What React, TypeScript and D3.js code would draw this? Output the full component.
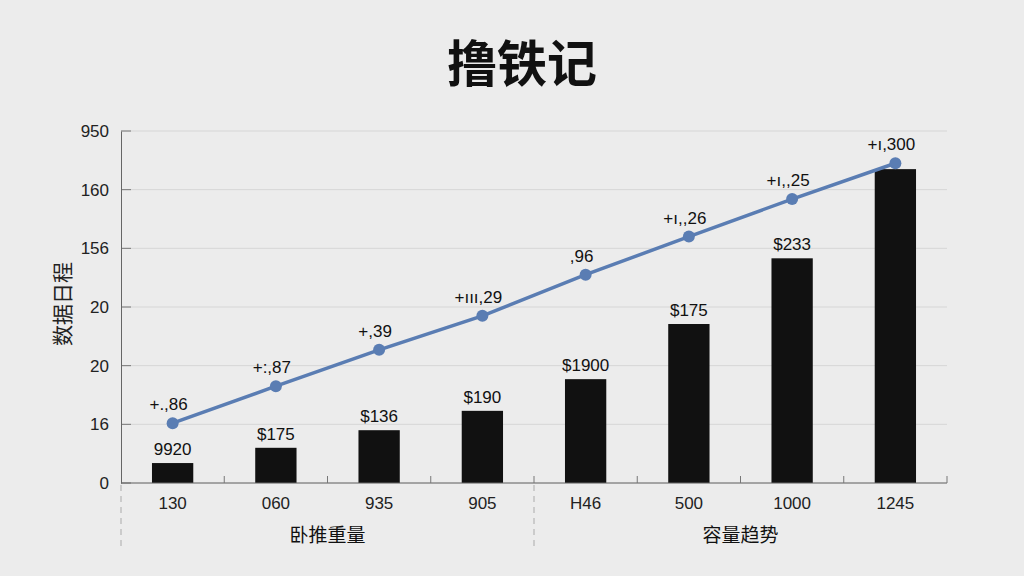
import { useEffect, useRef } from "react";
import * as d3 from "d3";

const categories = ["130", "060", "935", "905", "H46", "500", "1000", "1245"];
const barValues = [34, 60, 90, 123, 177, 271, 383, 535];
const barLabels = ["9920", "$175", "$136", "$190", "$1900", "$175", "$233", ""];
const lineValues = [102, 165, 227, 285, 355, 420, 484, 545];
const lineLabels = ["+.,86", "+:,87", "+,39", "+\u0131\u0131\u0131,29", ",96", "+\u0131,,26", "+\u0131,,25", "+\u0131,300"];
const yTicks = [0, 100, 200, 300, 400, 500, 600];
const yTickLabels = ["0", "16", "20", "20", "156", "160", "950"];
const groups = [
  { label: "卧推重量", from: 0, to: 3 },
  { label: "容量趋势", from: 4, to: 7 },
];

const FONT = "'Liberation Sans', Arial, sans-serif";
const CJK = "'Noto Sans CJK SC', sans-serif";

export default function App() {
  const svgRef = useRef<SVGSVGElement>(null);

  useEffect(() => {
    if (!svgRef.current) return;
    const width = 1024;
    const height = 576;
    const margin = { top: 131, right: 77, bottom: 93, left: 121 };
    const innerW = width - margin.left - margin.right;
    const innerH = height - margin.top - margin.bottom;

    const svg = d3.select(svgRef.current);
    svg.selectAll("*").remove();

    svg.append("rect").attr("width", width).attr("height", height).attr("fill", "#ececec");

    svg
      .append("text")
      .attr("x", width / 2 + 10)
      .attr("y", 82)
      .attr("text-anchor", "middle")
      .attr("font-family", CJK)
      .attr("font-weight", 700)
      .attr("font-size", 50)
      .attr("fill", "#111")
      .text("撸铁记");

    const g = svg.append("g").attr("transform", `translate(${margin.left},${margin.top})`);

    const x = d3
      .scaleBand()
      .domain(categories)
      .range([0, innerW])
      .paddingInner(0.6)
      .paddingOuter(0.3);
    const y = d3.scaleLinear().domain([0, 600]).range([innerH, 0]);
    const cx = (i: number) => x(categories[i])! + x.bandwidth() / 2;

    // grid
    yTicks.forEach((t) => {
      g.append("line")
        .attr("x1", 0)
        .attr("x2", innerW)
        .attr("y1", y(t))
        .attr("y2", y(t))
        .attr("stroke", "#d6d6d6")
        .attr("stroke-width", 1);
      g.append("line")
        .attr("x1", 0)
        .attr("x2", 10)
        .attr("y1", y(t))
        .attr("y2", y(t))
        .attr("stroke", "#777");
    });

    // y axis
    g.append("g")
      .call(
        d3
          .axisLeft(y)
          .tickValues(yTicks)
          .tickSize(0)
          .tickPadding(12)
          .tickFormat((_, i) => yTickLabels[i])
      )
      .call((a) => a.select(".domain").attr("stroke", "#666"))
      .call((a) =>
        a.selectAll("text").attr("font-family", FONT).attr("font-size", 17).attr("fill", "#222")
      );

    svg
      .append("text")
      .attr("transform", `translate(61,${margin.top + y(300) - 3}) rotate(-90)`)
      .attr("text-anchor", "middle")
      .attr("dominant-baseline", "central")
      .attr("font-family", CJK)
      .attr("font-size", 21)
      .attr("fill", "#222")
      .text("数据日程");

    // bars
    categories.forEach((c, i) => {
      g.append("rect")
        .attr("x", x(c)!)
        .attr("y", y(barValues[i]))
        .attr("width", x.bandwidth())
        .attr("height", innerH - y(barValues[i]))
        .attr("fill", "#111");
      if (barLabels[i]) {
        g.append("text")
          .attr("x", cx(i))
          .attr("y", y(barValues[i]) - 8)
          .attr("text-anchor", "middle")
          .attr("font-family", FONT)
          .attr("font-size", 17)
          .attr("fill", "#111")
          .text(barLabels[i]);
      }
    });

    // x axis
    g.append("line")
      .attr("x1", 0)
      .attr("x2", innerW)
      .attr("y1", innerH)
      .attr("y2", innerH)
      .attr("stroke", "#666");
    const step = x.step();
    d3.range(1, categories.length + 1).forEach((k) => {
      g.append("line")
        .attr("x1", k * step)
        .attr("x2", k * step)
        .attr("y1", innerH)
        .attr("y2", innerH - 7)
        .attr("stroke", "#777");
    });
    categories.forEach((c, i) => {
      g.append("text")
        .attr("x", cx(i))
        .attr("y", innerH + 26)
        .attr("text-anchor", "middle")
        .attr("font-family", FONT)
        .attr("font-size", 17)
        .attr("fill", "#222")
        .text(c);
    });

    // group dividers and labels
    [0, 4].forEach((k) => {
      g.append("line")
        .attr("x1", k * step)
        .attr("x2", k * step)
        .attr("y1", innerH + 2)
        .attr("y2", innerH + 66)
        .attr("stroke", "#aaa")
        .attr("stroke-dasharray", "6,5");
    });
    groups.forEach((gr) => {
      g.append("text")
        .attr("x", (cx(gr.from) + cx(gr.to)) / 2)
        .attr("y", innerH + 59)
        .attr("text-anchor", "middle")
        .attr("font-family", CJK)
        .attr("font-size", 19)
        .attr("fill", "#111")
        .text(gr.label);
    });

    // line
    const line = d3
      .line<number>()
      .x((_, i) => cx(i))
      .y((d) => y(d));
    g.append("path")
      .datum(lineValues)
      .attr("fill", "none")
      .attr("stroke", "#5a7db3")
      .attr("stroke-width", 3.5)
      .attr("d", line);
    lineValues.forEach((v, i) => {
      g.append("circle").attr("cx", cx(i)).attr("cy", y(v)).attr("r", 6).attr("fill", "#5a7db3");
      g.append("text")
        .attr("x", cx(i) - 4)
        .attr("y", y(v) - 13)
        .attr("text-anchor", "middle")
        .attr("font-family", FONT)
        .attr("font-size", 17)
        .attr("fill", "#111")
        .text(lineLabels[i]);
    });
  }, []);

  return (
    <svg
      ref={svgRef}
      width={1024}
      height={576}
      style={{ position: "fixed", top: 0, left: 0, display: "block" }}
    />
  );
}
